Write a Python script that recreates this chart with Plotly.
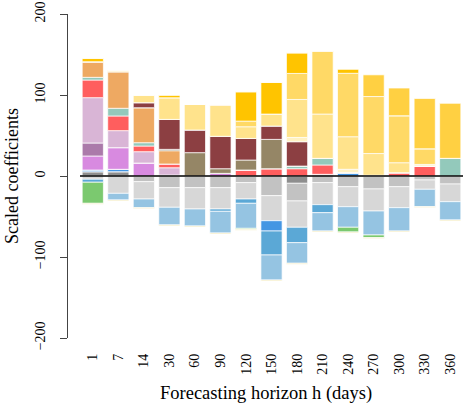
import plotly.graph_objects as go

horizons = ["1", "7", "14", "30", "60", "90", "120", "150", "180", "210", "240", "270", "300", "330", "360"]

# one list per coefficient group, positive and negative parts
darkgray = [5.3, 5.3, 0, 0, 0, 0, 0, 0, -9, 2.1, 0, 0, 0, 0, 0]
gray = [0, 0, -7, -14.4, -14.4, -14.4, -8.2, -24.3, -21.8, -8.2, -13.2, -16, -13.2, -4.9, -9.9]
lightgray = [-4, -21.4, -21.4, -24.2, -26.3, -26.3, -20.2, -30.9, -32.5, -27.2, -24.7, -27.2, -25.9, -11.5, -21.8]
blue = [2.1, 3, 0, 1.2, 0, 0, 0, -12.7, 0, 0, 4.1, 0, 0, 0, 0]
midblue = [-3.7, 0, 0, 0, 0, -2.9, -5.3, -29.6, -19, -9.9, 0, 0, 0, 0, 0]
lightblue = [0, -8.2, -10.7, -21.8, -21, -26.8, -30.9, -30.9, -25.4, -22.6, -25.4, -29.6, -28.8, -21.4, -22.6]
green = [-26, 0, 0, 0, 0, 0, -1.2, 0, 0, 0, -5.8, -3.3, 0, 0, 0]
khaki = [-1.2] * 15
orchid = [17.3, 26.7, 16, 0, 0, 3.3, 0, 0, 0, 0, 0, 0, 0, 0, 0]
mauve = [16, 0, 0, 0, 0, 0, 0, 0, 0, 0, 0, 0, 0, 0, 0]
pink = [56, 21, 14, 9, 0, 0, 0, 0, 0, 0, 0, 0, 0, 0, 0]
red = [21.8, 18.1, 7, 4.6, 0, 0, 7.4, 9, 9, 11.5, 0, 0, 4.1, 12.3, 0]
teal = [3.3, 9.5, 4.1, 0, 0, 0, 0, 0, 3.3, 8.2, 0, 0, 0, 0, 21.8]
orange = [19.3, 45.2, 43.2, 16.4, 0, 0, 0, 0, 0, 0, 0, 0, 0, 0, 0]
olive = [0, 0, 0, 1.7, 28.8, 5.7, 12.3, 36.2, 0, 0, 0, 0, 0, 0, 0]
maroon = [0, 0, 6.2, 37, 28, 40, 26.7, 16.5, 30, 0, 0, 0, 0, 0, 0]
palest = [0, 0, 0, 0, 0, 0, 0, 0, 5.3, 0, 4.2, 1, 0, 2, 0]
lightyellow = [0, 2.1, 9.5, 26.7, 31.7, 38.9, 14.4, 14.8, 46.9, 54.7, 40.2, 26.7, 12.3, 0, 0]
midyellow = [0, 0, 0, 0, 0, 0, 7, 0, 32.1, 77.8, 78.3, 70.4, 58, 19.3, 0]
gold = [4.2, 0, 0, 3.3, 0, 0, 36.2, 39.1, 25.4, 0, 5.3, 0, 0, 0, 0]
amber = [0, 0, 0, 0, 0, 0, 0, 0, 0, 0, 0, 26.8, 34.2, 62.1, 67.9]

series = [
    (darkgray, "#8e8e8e"), (gray, "#c2c2c2"), (lightgray, "#d7d7d7"),
    (blue, "#4496e3"), (midblue, "#5ba8d6"), (lightblue, "#95c4e2"),
    (green, "#7bc96f"), (khaki, "#f1e4a4"), (orchid, "#d88ae0"),
    (mauve, "#ab7aaa"), (pink, "#d9b5d6"), (red, "#ff5e5e"),
    (teal, "#93c9bb"), (orange, "#eea962"), (olive, "#958666"),
    (maroon, "#8c3f42"), (palest, "#fff2c4"), (lightyellow, "#ffe38c"),
    (midyellow, "#ffd966"), (gold, "#ffc400"), (amber, "#ffd042"),
]

serif = "Liberation Serif, Times New Roman, Times, serif"

fig = go.Figure()
for vals, col in series:
    fig.add_trace(go.Bar(x=horizons, y=vals, marker_color=col,
                         marker_line=dict(color="rgba(255,255,255,0.7)", width=1),
                         showlegend=False, hoverinfo="skip"))

# zero line across the bars only
fig.add_shape(type="line", xref="x", yref="y", x0=-0.5, x1=14.5, y0=0, y1=0,
              line=dict(color="black", width=1.5))

fig.add_annotation(text="Scaled coefficients", xref="paper", yref="paper",
                   x=0, y=0.5, xshift=-56, xanchor="center", yanchor="middle",
                   textangle=-90, showarrow=False,
                   font=dict(family=serif, size=18))
fig.add_annotation(text="Forecasting horizon h (days)", xref="x", yref="paper",
                   x=7, y=0, yshift=-55, xshift=-6, xanchor="center", yanchor="middle",
                   showarrow=False, font=dict(family=serif, size=18.5))

fig.update_layout(
    barmode="relative", bargap=0.17,
    width=475, height=407,
    margin=dict(l=68, r=12, t=14, b=69, autoexpand=False),
    plot_bgcolor="white", paper_bgcolor="white",
    font=dict(family=serif, size=14, color="black"),
)
fig.update_xaxes(range=[-0.5 - 12 / 25.5, 14.5], showline=False, showgrid=False,
                 zeroline=False, ticks="", tickangle=-90, ticklabelstandoff=12,
                 automargin=False, tickfont=dict(family=serif, size=14))
fig.update_yaxes(range=[-200, 200], tickvals=[-200, -100, 0, 100, 200],
                 showline=True, linecolor="#444", linewidth=1, showgrid=False,
                 zeroline=False, ticks="outside", ticklen=7, tickcolor="#444",
                 tickangle=-90, ticklabelstandoff=9, automargin=False,
                 tickfont=dict(family=serif, size=14))

fig.write_html("out.html", config={"displayModeBar": False},
               post_script="document.body.style.margin='0';")
